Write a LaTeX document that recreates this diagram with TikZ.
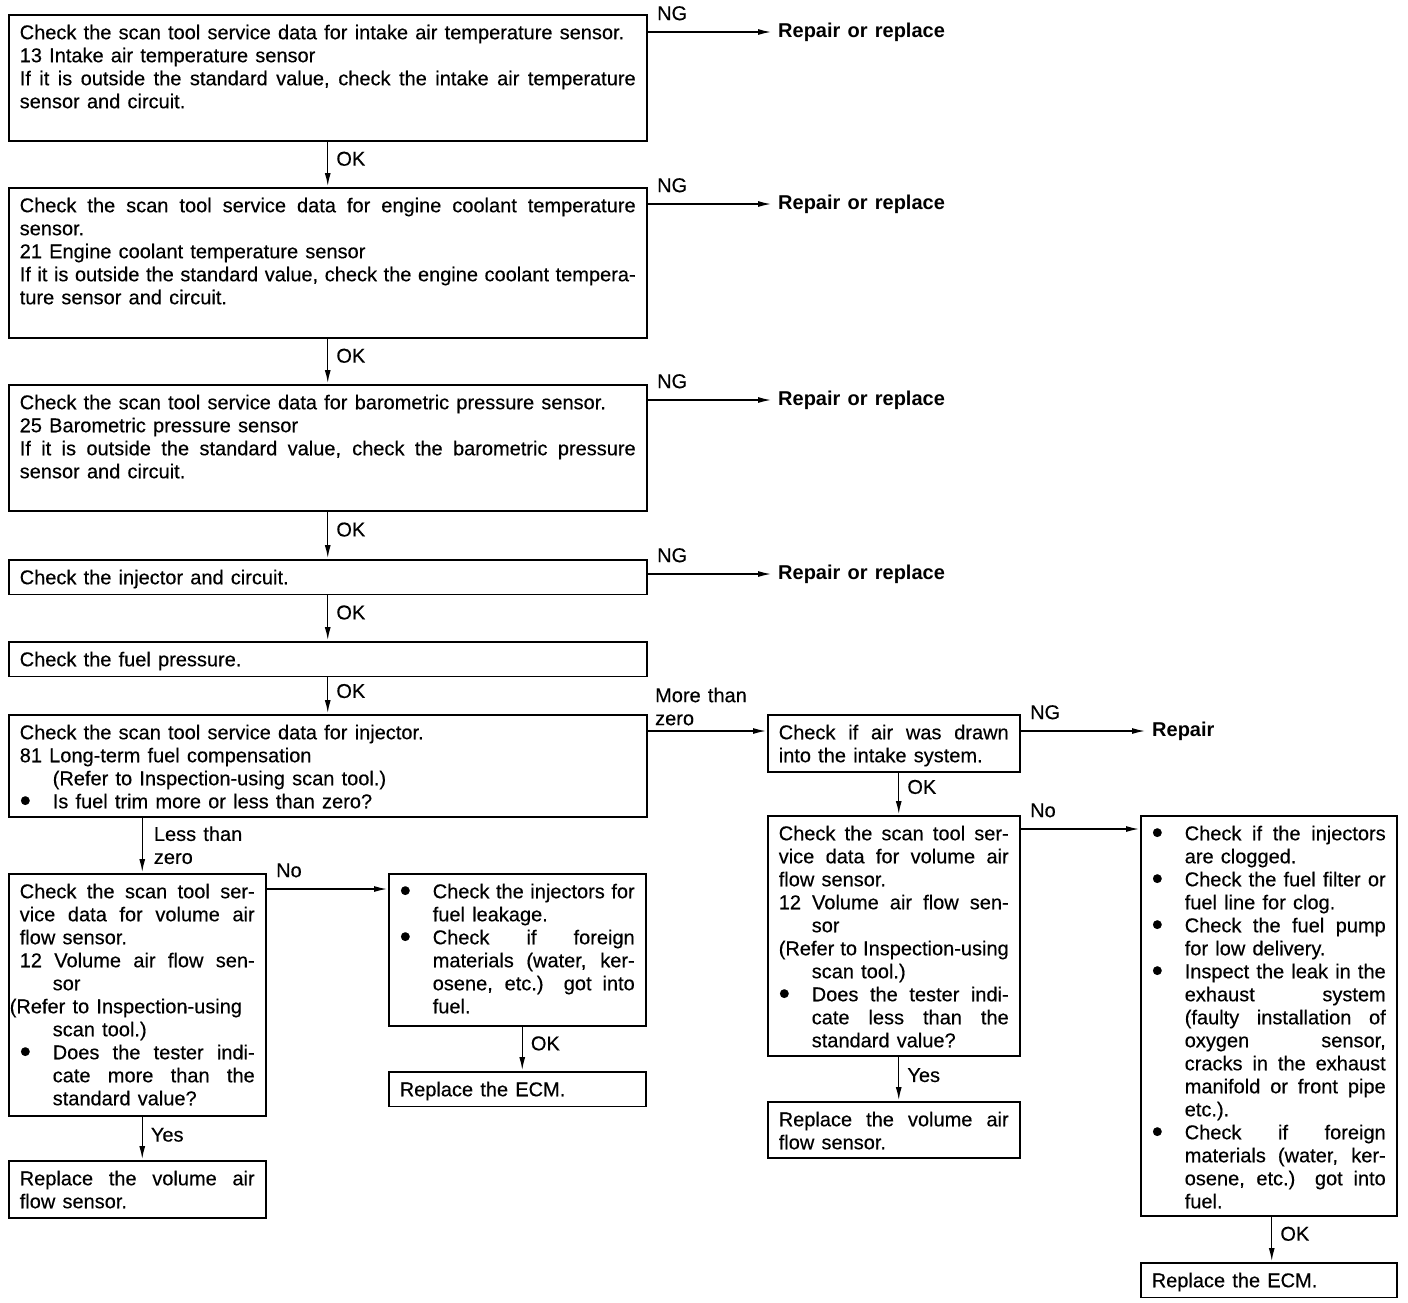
\documentclass[tikz,border=0pt]{standalone}
\usepackage{fontspec}
\setmainfont{Liberation Sans}[UprightFeatures={FakeBold=0.4}]
\usepackage{tikz}
\usetikzlibrary{arrows.meta}

\newcommand{\chartfont}{\fontsize{20}{23}\selectfont\spaceskip=0.36em plus 0.6em minus 0.12em\relax}
\newcommand{\bul}{\hangindent=33pt\hangafter=1\makebox[33pt][l]{\raisebox{-3pt}{\scalebox{1.6}{\textbullet}}}}
\newcommand{\stepbody}[3]{\parbox[t][#2][t]{#1}{\tolerance=10000\hbadness=10000\vbadness=10000\hyphenpenalty=10000\exhyphenpenalty=10000 #3}}

\tikzset{
  stepbox/.style={draw, line width=1.5pt, anchor=north west, inner xsep=11pt, inner ysep=10pt},
  flow/.style={-{Latex[length=13pt,width=6pt]}, line width=1.3pt},
  result/.style={anchor=west, inner xsep=6pt, inner ysep=0pt, font=\chartfont\bfseries},
  nglabel/.style={anchor=south west, inner sep=0pt, xshift=9pt, yshift=11pt},
  morelabel/.style={anchor=south west, inner sep=0pt, align=left, xshift=7pt, yshift=5pt},
  oklabel/.style={anchor=west, inner sep=0pt, xshift=8pt, pos=0.38}
}

\begin{document}
\begin{tikzpicture}[x=1pt, y=-1pt, shorten >=1pt, font=\chartfont]
    \useasboundingbox (0,0) rectangle (1408,1302);
    % main column
    \node[stepbox] (s1) at (8,14) {\stepbody{616pt}{106pt}{Check the scan tool service data for intake air temperature sensor.\par
      13 Intake air temperature sensor\par
      If it is outside the standard value, check the intake air temperature\linebreak sensor and circuit.}};
    \node[stepbox] (s2) at (8,187) {\stepbody{616pt}{130pt}{Check the scan tool service data for engine coolant temperature\linebreak sensor.\par
      21 Engine coolant temperature sensor\par
      If it is outside the standard value, check the engine coolant tempera-\linebreak ture sensor and circuit.}};
    \node[stepbox] (s3) at (8,384) {\stepbody{616pt}{106pt}{Check the scan tool service data for barometric pressure sensor.\par
      25 Barometric pressure sensor\par
      If it is outside the standard value, check the barometric pressure\linebreak sensor and circuit.}};
    \node[stepbox] (s4) at (8,559) {\stepbody{616pt}{12pt}{Check the injector and circuit.}};
    \node[stepbox] (s5) at (8,641) {\stepbody{616pt}{11pt}{Check the fuel pressure.}};
    \node[stepbox] (s6) at (8,714) {\stepbody{616pt}{82pt}{Check the scan tool service data for injector.\par
      81 Long-term fuel compensation\par
      \hspace*{33pt}(Refer to Inspection-using scan tool.)\par
      \bul Is fuel trim more or less than zero?}};
    % less than zero branch
    \node[stepbox] (s7) at (8,873) {\stepbody{235pt}{222pt}{Check the scan tool ser-\linebreak vice data for volume air\linebreak flow sensor.\par
      \hangindent=33pt 12 Volume air flow sen-\linebreak sor\par
      \hspace*{-10pt}(Refer to Inspection-using\par
      \hspace*{33pt}scan tool.)\par
      \bul Does the tester indi-\linebreak cate more than the\linebreak standard value?}};
    \node[stepbox] (s8) at (8,1160) {\stepbody{235pt}{37pt}{Replace the volume air\linebreak flow sensor.}};
    \node[stepbox] (s9) at (388,873) {\stepbody{235pt}{132pt}{\bul Check the injectors for\linebreak fuel leakage.\par
      \bul Check if foreign\linebreak materials (water, ker-\linebreak osene, etc.) got into\linebreak fuel.}};
    \node[stepbox] (s10) at (388,1071) {\stepbody{235pt}{14pt}{Replace the ECM.}};
    % more than zero branch
    \node[stepbox] (s11) at (767,714) {\stepbody{230pt}{37pt}{Check if air was drawn\linebreak into the intake system.}};
    \node[stepbox] (s12) at (767,815) {\stepbody{230pt}{220pt}{Check the scan tool ser-\linebreak vice data for volume air\linebreak flow sensor.\par
      \hangindent=33pt 12 Volume air flow sen-\linebreak sor\par
      (Refer to Inspection-using\par
      \hspace*{33pt}scan tool.)\par
      \bul Does the tester indi-\linebreak cate less than the\linebreak standard value?}};
    \node[stepbox] (s13) at (767,1101) {\stepbody{230pt}{36pt}{Replace the volume air\linebreak flow sensor.}};
    \node[stepbox] (s14) at (1140,815) {\stepbody{234pt}{380pt}{\bul Check if the injectors\linebreak are clogged.\par
      \bul Check the fuel filter or\linebreak fuel line for clog.\par
      \bul Check the fuel pump\linebreak for low delivery.\par
      \bul Inspect the leak in the\linebreak exhaust system\linebreak (faulty installation of\linebreak oxygen sensor,\linebreak cracks in the exhaust\linebreak manifold or front pipe\linebreak etc.).\par
      \bul Check if foreign\linebreak materials (water, ker-\linebreak osene, etc.) got into\linebreak fuel.}};
    \node[stepbox] (s15) at (1140,1262) {\stepbody{234pt}{12pt}{Replace the ECM.}};
    % NG results
    \node[result] (r1) at (772,32) {Repair or replace};
    \node[result] (r2) at (772,204) {Repair or replace};
    \node[result] (r3) at (772,400) {Repair or replace};
    \node[result] (r4) at (772,574) {Repair or replace};
    \node[result] (r5) at (1146,731) {Repair};
    \draw[flow] (r1 -| s1.east) -- node[nglabel, pos=0] {NG} (r1);
    \draw[flow] (r2 -| s2.east) -- node[nglabel, pos=0] {NG} (r2);
    \draw[flow] (r3 -| s3.east) -- node[nglabel, pos=0] {NG} (r3);
    \draw[flow] (r4 -| s4.east) -- node[nglabel, pos=0] {NG} (r4);
    \draw[flow] (r5 -| s11.east) -- node[nglabel, pos=0] {NG} (r5);
    % OK chain
    \draw[flow] (s1.south) -- node[oklabel] {OK} (s2.north);
    \draw[flow] (s2.south) -- node[oklabel] {OK} (s3.north);
    \draw[flow] (s3.south) -- node[oklabel] {OK} (s4.north);
    \draw[flow] (s4.south) -- node[oklabel] {OK} (s5.north);
    \draw[flow] (s5.south) -- node[oklabel] {OK} (s6.north);
    % branches
    \coordinate (t11) at ([yshift=-17pt]s11.north west);
    \coordinate (t9) at ([yshift=-16pt]s9.north west);
    \coordinate (t14) at ([yshift=-14pt]s14.north west);
    \draw[flow] (s6.east |- t11) -- node[morelabel, pos=0] {More than\\zero} (t11);
    \draw[flow] ([xshift=5pt]s7.north |- s6.south) -- node[oklabel, pos=0.5, xshift=3pt, align=left] {Less than\\zero} ([xshift=5pt]s7.north);
    \draw[flow] (s7.east |- t9) -- node[nglabel, pos=0] {No} (t9);
    \draw[flow] ([xshift=5pt]s8.north |- s7.south) -- node[oklabel, pos=0.42] {Yes} ([xshift=5pt]s8.north);
    \draw[flow] ([xshift=5pt]s10.north |- s9.south) -- node[oklabel] {OK} ([xshift=5pt]s10.north);
    \draw[flow] ([xshift=5pt]s12.north |- s11.south) -- node[oklabel, pos=0.34] {OK} ([xshift=5pt]s12.north);
    \draw[flow] (s12.east |- t14) -- node[nglabel, pos=0] {No} (t14);
    \draw[flow] ([xshift=5pt]s13.north |- s12.south) -- node[oklabel, pos=0.42] {Yes} ([xshift=5pt]s13.north);
    \draw[flow] ([xshift=3pt]s15.north |- s14.south) -- node[oklabel] {OK} ([xshift=3pt]s15.north);
\end{tikzpicture}
\end{document}
